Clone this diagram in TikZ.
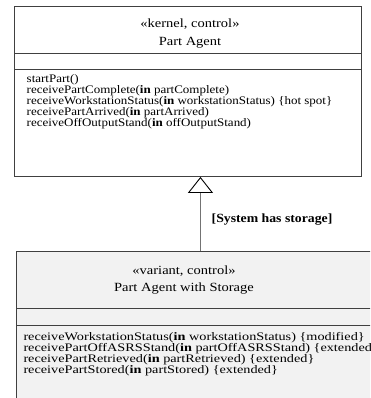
\documentclass[tikz,border=0pt]{standalone}
\usepackage{fontspec}
\setmainfont{Liberation Serif}
\newfontfamily\topserif{Liberation Serif}[FakeStretch=1.13]
\newfontfamily\lowserif{Liberation Serif}[FakeStretch=1.24]
\newfontfamily\titleserif{Liberation Serif}[FakeStretch=1.16]
\newfontfamily\labelserif{Liberation Serif}[FakeStretch=1.1]
\usetikzlibrary{arrows.meta}
\tikzset{
  classbox/.style={draw=black!75, line width=0.9pt, inner sep=0pt, anchor=north west},
  sep/.style={draw=black!75, line width=0.9pt},
  optext/.style={anchor=base west, inner sep=0pt, font=\topserif\fontsize{11.5}{11.5}\selectfont},
  lowtext/.style={anchor=base west, inner sep=0pt, font=\lowserif\fontsize{11.5}{11.5}\selectfont},
  titletext/.style={anchor=base, inner sep=0pt, font=\titleserif\fontsize{12.5}{12.5}\selectfont},
  gen/.style={draw=black!55, line width=1.4pt, -{Triangle[open, length=16pt, width=25pt, line width=0.9pt, color=black]}},
}
\begin{document}
\begin{tikzpicture}[x=1pt,y=-1pt]
\useasboundingbox (0,0) rectangle (370,398);
\clip (0,0) rectangle (370,398);
% top class
\node[classbox, fill=white, minimum width=347pt, minimum height=170pt] (pa) at (14,6) {};
\draw[sep] (14,53) -- (361,53);
\draw[sep] (14,69) -- (361,69);
\node[titletext] (pas1) at (190,28) {«kernel, control»};
\node[titletext] (pan) at (190,45.4) {Part Agent};
\node[optext] (o1) at (26.5,82.8) {startPart()};
\node[optext] (o2) at (26.5,93.65) {receivePartComplete(\textbf{in} partComplete)};
\node[optext] (o3) at (26.5,104.5) {receiveWorkstationStatus(\textbf{in} workstationStatus) \{hot spot\}};
\node[optext] (o4) at (26.5,115.35) {receivePartArrived(\textbf{in} partArrived)};
\node[optext] (o5) at (26.5,126.2) {receiveOffOutputStand(\textbf{in} offOutputStand)};
% lower class
\node[classbox, fill=black!5, minimum width=368pt, minimum height=170pt] (ps) at (16,251) {};
\draw[sep] (16,308) -- (384,308);
\draw[sep] (16,325) -- (384,325);
\node[titletext] (ps1) at (184,274) {«variant, control»};
\node[titletext] (psn) at (184,291) {Part Agent with Storage};
\node[lowtext] (l1) at (23.3,340.5) {receiveWorkstationStatus(\textbf{in} workstationStatus) \{modified\}};
\node[lowtext] (l2) at (23.3,351.5) {receivePartOffASRSStand(\textbf{in} partOffASRSStand) \{extended\}};
\node[lowtext] (l3) at (23.3,362.5) {receivePartRetrieved(\textbf{in} partRetrieved) \{extended\}};
\node[lowtext] (l4) at (23.3,373.5) {receivePartStored(\textbf{in} partStored) \{extended\}};
% generalization
\draw[gen] (ps.north) -- (pa.south -| ps.north);
\node[anchor=west, inner sep=0pt, font=\labelserif\fontsize{12.5}{12.5}\selectfont\bfseries] (cond) at (211.5,220) {[System has storage]};
\end{tikzpicture}
\end{document}
